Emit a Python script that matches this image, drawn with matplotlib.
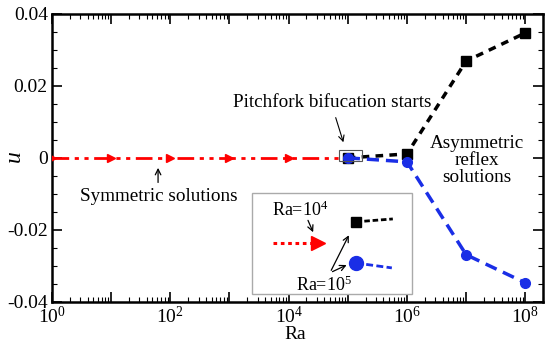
import numpy as np
import matplotlib
matplotlib.use("Agg")
import matplotlib.pyplot as plt
from matplotlib.ticker import LogLocator, NullFormatter, MultipleLocator
from matplotlib.patches import Rectangle

plt.rcParams['font.family'] = ['Liberation Serif', 'DejaVu Serif']
plt.rcParams['mathtext.fontset'] = 'custom'
plt.rcParams['mathtext.rm'] = 'Liberation Serif'
plt.rcParams['mathtext.it'] = 'Liberation Serif:italic'

# data
ra_sym = [1, 10, 1e2, 1e3, 1e4, 1e5]
u_sym = [0, 0, 0, 0, 0, 0]
ra_asym = [1e5, 1e6, 1e7, 1e8]
u_upper = [0.0, 0.0011, 0.0269, 0.0347]
u_lower = [0.0, -0.0011, -0.0269, -0.0347]

fig = plt.figure(figsize=(5.5, 3.47), dpi=100)
ax = fig.add_axes([0.0945, 0.13, 0.893, 0.83])

ax.plot(ra_sym, u_sym, color='#ff0000', lw=2, dashes=(6, 2, 1.5, 2, 1.5, 2),
        marker='>', ms=6, markevery=slice(0, 5), zorder=3)
ax.plot(ra_asym, u_upper, color='black', lw=2.5, dashes=(2.2, 1.8),
        marker='s', ms=6.5, zorder=3)
ax.plot(ra_asym, u_lower, color='#1a2ee6', lw=2.5, dashes=(3.5, 2),
        marker='o', ms=7, zorder=4)

ax.set_xscale('log')
ax.set_xlim(1, 2e8)
ax.set_ylim(-0.04, 0.04)
ax.xaxis.set_minor_locator(LogLocator(base=10, subs=np.arange(2, 10), numticks=20))
ax.xaxis.set_minor_formatter(NullFormatter())
ax.set_xticks([10.0**k for k in range(0, 9)])
ax.set_xticklabels([f'$10^{{{k}}}$' if k % 2 == 0 else '' for k in range(0, 9)])
ax.yaxis.set_minor_locator(MultipleLocator(0.005))
ax.set_yticks([-0.04, -0.02, 0, 0.02, 0.04])
ax.set_yticklabels(['-0.04', '-0.02', '0', '0.02', '0.04'])

ax.tick_params(which='both', direction='in', top=True, right=True, labelsize=14, pad=3)
ax.tick_params(which='major', length=7, width=1.2)
ax.tick_params(which='minor', length=3.5, width=0.8)
for s in ax.spines.values():
    s.set_linewidth(1.8)

ax.set_xlabel('Ra', fontsize=14)
ax.xaxis.set_label_coords(0.495, -0.082)
ax.set_ylabel('$u$', fontsize=17, va='center')
ax.yaxis.set_label_coords(-0.075, 0.5)

# annotations
ax.add_patch(Rectangle((0.585, 0.49), 0.047, 0.038, transform=ax.transAxes,
                       fill=False, ec='#555555', lw=0.8, zorder=5))
ax.text(0.57, 0.694, 'Pitchfork bifucation starts', transform=ax.transAxes,
        ha='center', va='center', fontsize=13.8)
ax.annotate('', xy=(0.595, 0.545), xytext=(0.576, 0.649), xycoords='axes fraction',
            arrowprops=dict(arrowstyle='->', lw=0.8))
ax.text(0.865, 0.49, 'Asymmetric\nreflex\nsolutions', transform=ax.transAxes,
        ha='center', va='center', fontsize=13.8, linespacing=1.0)
ax.text(0.218, 0.365, 'Symmetric solutions', transform=ax.transAxes,
        ha='center', va='center', fontsize=13.8)
ax.annotate('', xy=(0.216, 0.475), xytext=(0.216, 0.405), xycoords='axes fraction',
            arrowprops=dict(arrowstyle='->', lw=0.9))

# schematic inset
ax.add_patch(Rectangle((0.407, 0.028), 0.326, 0.351, transform=ax.transAxes,
                       fill=True, fc='white', ec='#aaaaaa', lw=1, zorder=6))
ax.plot([0.450, 0.535], [0.205, 0.205], transform=ax.transAxes, color='#ff0000',
        lw=2.2, ls=(0, (1.2, 1.2)), zorder=7)
ax.plot([0.542], [0.205], transform=ax.transAxes, marker='>', ms=10,
        color='#ff0000', zorder=7)
ax.plot([0.619, 0.694], [0.278, 0.288], transform=ax.transAxes, color='black',
        lw=2, ls=(0, (2, 1)), marker='s', ms=7, markevery=[0], zorder=7)
ax.plot([0.619, 0.692], [0.135, 0.118], transform=ax.transAxes, color='#1a2ee6',
        lw=2, ls=(0, (2.5, 1.2)), marker='o', ms=10, markevery=[0], zorder=7)
ax.text(0.505, 0.319, 'Ra=10$^4$', transform=ax.transAxes, ha='center',
        va='center', fontsize=13, zorder=8)
ax.annotate('', xy=(0.534, 0.233), xytext=(0.519, 0.292), xycoords='axes fraction',
            arrowprops=dict(arrowstyle='->', lw=0.9), zorder=8)
ax.text(0.554, 0.059, 'Ra=10$^5$', transform=ax.transAxes, ha='center',
        va='center', fontsize=13, zorder=8)
ax.annotate('', xy=(0.607, 0.240), xytext=(0.566, 0.101), xycoords='axes fraction',
            arrowprops=dict(arrowstyle='->', lw=0.9), zorder=8)
ax.annotate('', xy=(0.605, 0.132), xytext=(0.566, 0.101), xycoords='axes fraction',
            arrowprops=dict(arrowstyle='->', lw=0.9), zorder=8)

fig.savefig('out.png', dpi=100)
